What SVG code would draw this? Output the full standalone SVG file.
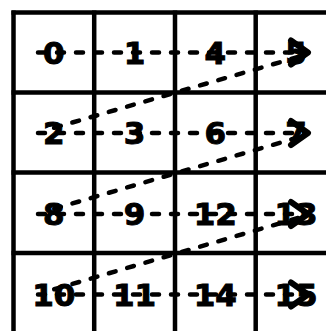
<svg xmlns="http://www.w3.org/2000/svg" width="326" height="331" viewBox="0 0 326 331">
<style>
.grid{stroke:#000;stroke-width:4.5;fill:none}
.lbl{font-family:"DejaVu Sans",Verdana,sans-serif;font-weight:bold;font-size:31px;text-anchor:middle;fill:#000;stroke:#000;stroke-width:1}
.dash{stroke:#000;stroke-width:4.5;fill:none;stroke-linecap:round;stroke-dasharray:7 12}
</style>
<defs>
<marker id="arr" markerUnits="userSpaceOnUse" markerWidth="30" markerHeight="34" viewBox="-24 -17 30 34" refX="0" refY="0" orient="auto" overflow="visible">
<path d="M-17,-12 L0,0 L-17,12" fill="none" stroke="#000" stroke-width="6" stroke-linejoin="round" stroke-linecap="round"/>
</marker>
</defs>
<rect width="326" height="331" fill="#fff"/>
<g id="grid" class="grid">
<path d="M13.5,10.5 V331 M94.2,10.5 V331 M175,10.5 V331 M255.7,10.5 V331"/>
<path d="M11.5,12.5 H326 M11.5,92.5 H326 M11.5,172.5 H326 M11.5,253 H326"/>
</g>
<g id="connectors">
<path class="dash" d="M38,52.5 H308" marker-end="url(#arr)"/>
<path class="dash" d="M38,133 H308" marker-end="url(#arr)"/>
<path class="dash" d="M38,214 H308" marker-end="url(#arr)"/>
<path class="dash" d="M38,294.5 H308" marker-end="url(#arr)"/>
<path class="dash" d="M298,57 L50,129"/>
<path class="dash" d="M298,137.5 L50,210"/>
<path class="dash" d="M298,218 L50,290.5"/>
</g>
<g id="n0"><text class="lbl" x="53.8" y="63.5">0</text></g>
<g id="n1"><text class="lbl" x="134.6" y="63.5">1</text></g>
<g id="n4"><text class="lbl" x="215.3" y="63.5">4</text></g>
<g id="n5"><text class="lbl" x="296" y="63.5">5</text></g>
<g id="n2"><text class="lbl" x="53.8" y="144">2</text></g>
<g id="n3"><text class="lbl" x="134.6" y="144">3</text></g>
<g id="n6"><text class="lbl" x="215.3" y="144">6</text></g>
<g id="n7"><text class="lbl" x="296" y="144">7</text></g>
<g id="n8"><text class="lbl" x="53.8" y="225">8</text></g>
<g id="n9"><text class="lbl" x="134.6" y="225">9</text></g>
<g id="n12"><text class="lbl" x="215.3" y="225">12</text></g>
<g id="n13"><text class="lbl" x="296" y="225">13</text></g>
<g id="n10"><text class="lbl" x="53.8" y="305.5">10</text></g>
<g id="n11"><text class="lbl" x="134.6" y="305.5">11</text></g>
<g id="n14"><text class="lbl" x="215.3" y="305.5">14</text></g>
<g id="n15"><text class="lbl" x="296" y="305.5">15</text></g>
</svg>
